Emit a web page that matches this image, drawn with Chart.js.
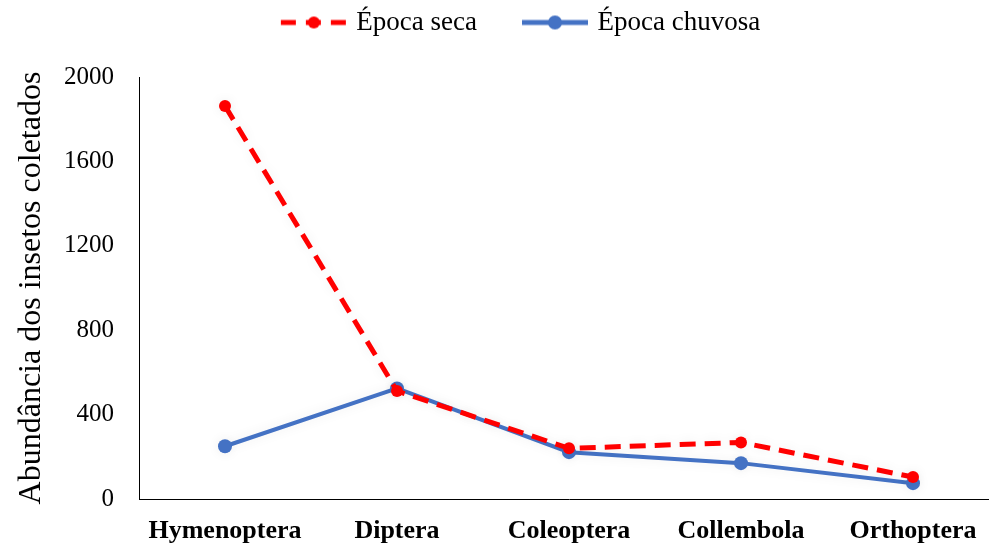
<!DOCTYPE html>
<html>
<head>
<meta charset="utf-8">
<script src="https://cdn.jsdelivr.net/npm/chart.js@4"></script>
<style>
  html, body { margin: 0; padding: 0; background: #fff; overflow: hidden; }
  #wrap { width: 1006px; height: 546px; }
</style>
</head>
<body>
<div id="wrap"><canvas id="grafico"></canvas></div>
<script>
// Abundância de insetos por ordem - época seca x época chuvosa

var ordens = ["Hymenoptera", "Diptera", "Coleoptera", "Collembola", "Orthoptera"];
var epocaSeca = [1863, 512, 240, 268, 104];
var epocaChuvosa = [250, 524, 222, 170, 75];
var ticksY = [0, 400, 800, 1200, 1600, 2000];

var vermelho = "#FF0000";
var azul = "#4472C4";

// Desenha o símbolo da legenda (linha + ponto), com espaço em branco à esquerda
var margemSimbolo = 40;
var larguraSimbolo = margemSimbolo + 68;
function simbolo(cor, tracejado, raio) {
    var c = document.createElement("canvas");
    c.width = larguraSimbolo;
    c.height = 16;
    var g = c.getContext("2d");
    var x0 = margemSimbolo;
    g.strokeStyle = cor;
    g.lineWidth = 5;
    if (tracejado) g.setLineDash([15, 10]);
    g.beginPath();
    g.moveTo(x0 + 1, 8);
    g.lineTo(x0 + 67, 8);
    g.stroke();
    g.fillStyle = cor;
    g.beginPath();
    g.arc(x0 + 34, 8, raio, 0, Math.PI * 2);
    g.fill();
    return c;
}

// Sombra leve atrás das linhas
var sombra = {
    id: "sombra",
    beforeDatasetsDraw: function(chart) {
        chart.ctx.save();
        chart.ctx.shadowColor = "rgba(0,0,0,0.08)";
        chart.ctx.shadowBlur = 12;
    },
    afterDatasetsDraw: function(chart) {
        chart.ctx.restore();
    }
};

// Mais espaço entre a legenda e o gráfico
var espacoLegenda = {
    id: "espacoLegenda",
    beforeLayout: function(chart) {
        var lg = chart.legend;
        if (lg && !lg._ajustado) {
            var fitOriginal = lg.fit;
            lg.fit = function() {
                fitOriginal.call(this);
                this.height += 31;
            };
            lg._ajustado = true;
        }
    }
};

var ctx = document.getElementById("grafico");

new Chart(ctx, {
    type: "line",
    data: {
        labels: ordens,
        datasets: [
            {
                label: "Época seca",
                data: epocaSeca,
                borderColor: vermelho,
                backgroundColor: vermelho,
                borderWidth: 5,
                borderDash: [16, 9],
                pointStyle: "circle",
                pointRadius: 6,
                pointHoverRadius: 6,
                pointBorderWidth: 0,
                tension: 0
            },
            {
                label: "Época chuvosa",
                data: epocaChuvosa,
                borderColor: azul,
                backgroundColor: azul,
                borderWidth: 4,
                pointStyle: "circle",
                pointRadius: 7,
                pointHoverRadius: 7,
                pointBorderWidth: 0,
                tension: 0
            }
        ]
    },
    options: {
        responsive: true,
        maintainAspectRatio: false,
        animation: false,
        layout: { padding: { top: 0, right: 1, left: 0, bottom: 0 } },
        plugins: {
            tooltip: { enabled: false },
            legend: {
                display: true,
                position: "top",
                labels: {
                    usePointStyle: true,
                    pointStyleWidth: larguraSimbolo - 10,
                    color: "#000",
                    padding: 9,
                    font: { family: "Liberation Serif", size: 27 },
                    generateLabels: function(chart) {
                        return chart.data.datasets.map(function(ds, i) {
                            return {
                                text: ds.label,
                                pointStyle: simbolo(ds.borderColor, i === 0, i === 0 ? 6 : 7),
                                fillStyle: ds.borderColor,
                                strokeStyle: ds.borderColor,
                                lineWidth: 0,
                                fontColor: "#000",
                                datasetIndex: i
                            };
                        });
                    }
                }
            }
        },
        scales: {
            x: {
                offset: true,
                afterFit: function(scale) { scale.height = 47; },
                grid: { display: false, drawTicks: false },
                border: { display: true, color: "#000", width: 1 },
                ticks: {
                    color: "#000",
                    padding: 17,
                    maxRotation: 0,
                    font: { family: "Liberation Serif", size: 26, weight: "bold" }
                }
            },
            y: {
                min: 0,
                max: 2000,
                afterBuildTicks: function(scale) {
                    scale.ticks = ticksY.map(function(v) { return { value: v }; });
                },
                afterFit: function(scale) { scale.width = 139; },
                grid: { display: false, drawTicks: false },
                border: { display: true, color: "#000", width: 1 },
                ticks: {
                    color: "#000",
                    padding: 25,
                    font: { family: "Liberation Serif", size: 25 },
                    callback: function(v) { return String(v); }
                },
                title: {
                    display: true,
                    text: "Abundância dos insetos coletados",
                    color: "#000",
                    padding: { top: 12, bottom: 0 },
                    font: { family: "Liberation Serif", size: 32 }
                }
            }
        }
    },
    plugins: [sombra, espacoLegenda]
});
</script>
</body>
</html>
